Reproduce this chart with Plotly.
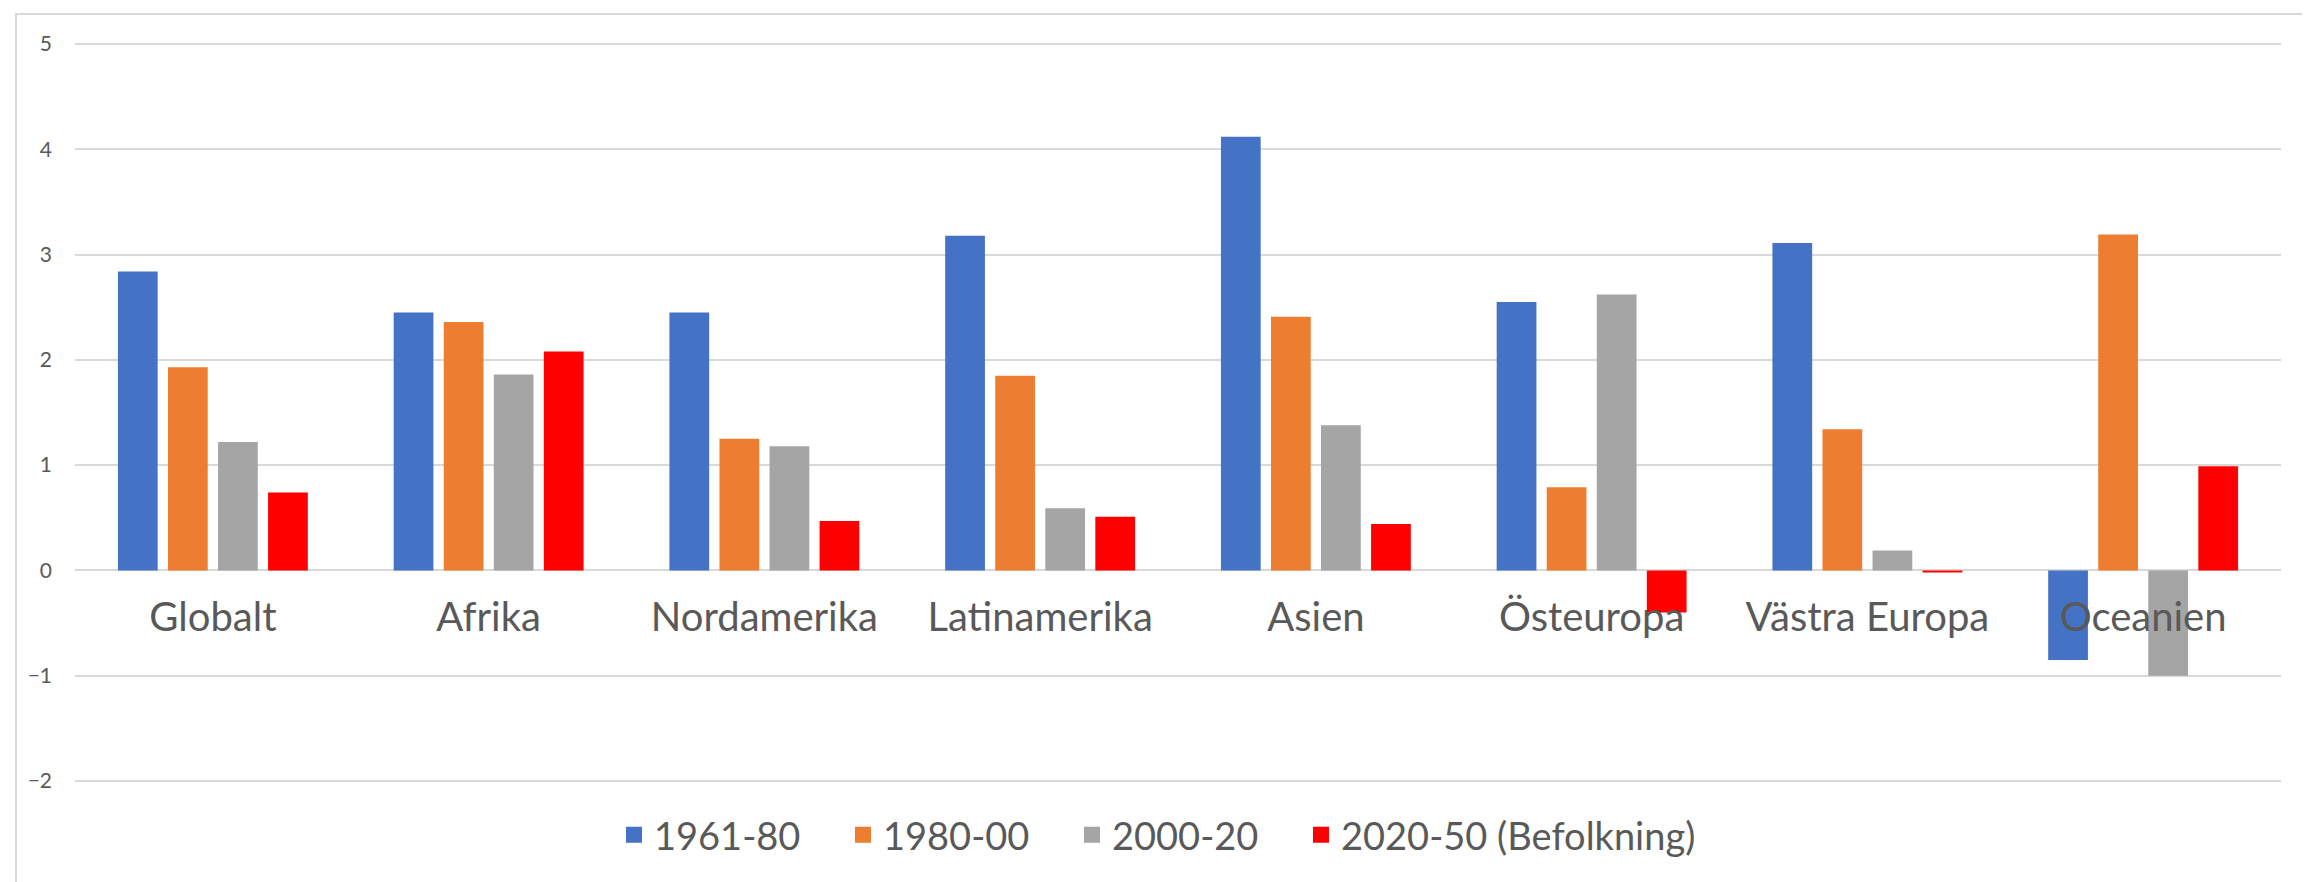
### Import Packages ###
import plotly.graph_objects as go

### Data ###
regions = ['Globalt', 'Afrika', 'Nordamerika', 'Latinamerika', 'Asien',
           'Östeuropa', 'Västra Europa', 'Oceanien']

series_names = ['1961-80', '1980-00', '2000-20', '2020-50 (Befolkning)']

values_1961_80 = [2.84, 2.45, 2.45, 3.18, 4.12, 2.55, 3.11, -0.85]
values_1980_00 = [1.93, 2.36, 1.25, 1.85, 2.41, 0.79, 1.34, 3.19]
values_2000_20 = [1.22, 1.86, 1.18, 0.59, 1.38, 2.62, 0.19, -1.00]
values_2020_50 = [0.74, 2.08, 0.47, 0.51, 0.44, -0.40, -0.02, 0.99]

y_ticks = [-2, -1, 0, 1, 2, 3, 4, 5]

colors = ['#4472C4', '#ED7D31', '#A5A5A5', '#FF0000']

### Figure ###
W, H = 2310, 882
m_left, m_right, m_top, m_bottom = 67, 37, 35, 108
plot_w = W - m_left - m_right
plot_h = H - m_top - m_bottom

y_min, y_max = -2, 5
# x axis crosses at zero, like in Excel
zero_pos = (0 - y_min) / (y_max - y_min)

# pixel -> paper helpers
def px_x(p):
    return (p - m_left) / plot_w

def px_y(p):
    return (H - m_bottom - p) / plot_h

fig = go.Figure()

all_values = [values_1961_80, values_1980_00, values_2000_20, values_2020_50]
for i, (name, vals, color) in enumerate(zip(series_names, all_values, colors)):
    fig.add_trace(go.Bar(x = regions, y = vals, name = name, legendgroup = name,
                         showlegend = False,
                         marker = dict(color = color, line = dict(width = 0))))
    # legend entry with a bigger square than the bar default
    # last series gets its own legend box so the first three can be spaced out
    fig.add_trace(go.Scatter(x = [None], y = [None], name = name, legendgroup = name,
                             mode = 'markers',
                             legend = 'legend2' if i == 3 else 'legend',
                             marker = dict(color = color, symbol = 'square', size = 16,
                                           line = dict(width = 0))))

# chart border
fig.add_shape(type = 'rect', xref = 'paper', yref = 'paper',
              x0 = px_x(8), x1 = px_x(2302), y0 = px_y(895), y1 = px_y(6),
              line = dict(color = '#D9D9D9', width = 2), fillcolor = 'rgba(0,0,0,0)',
              layer = 'below')

legend_font = dict(size = 38, color = '#595959')

fig.update_layout(
    width = W, height = H,
    margin = dict(l = m_left, r = m_right, t = m_top, b = m_bottom),
    paper_bgcolor = 'white', plot_bgcolor = 'white',
    barmode = 'group', bargap = 0.274, bargroupgap = 0.206,
    font = dict(family = 'Lato, Carlito, Calibri, sans-serif', color = '#595959'),
    showlegend = True,
    legend = dict(orientation = 'h', x = px_x(606), xanchor = 'left',
                  y = px_y(827), yanchor = 'middle', font = legend_font,
                  itemwidth = 30, entrywidth = 184, traceorder = 'normal'),
    legend2 = dict(orientation = 'h', x = px_x(1293), xanchor = 'left',
                   y = px_y(827), yanchor = 'middle', font = legend_font,
                   itemwidth = 30),
    xaxis = dict(anchor = 'free', position = zero_pos, showgrid = False,
                 showline = False, zeroline = False, ticks = '',
                 ticklabelstandoff = 19,
                 tickfont = dict(size = 40, color = '#595959')),
    yaxis = dict(range = [y_min - 0.01, y_max + 0.01], tickvals = y_ticks, showgrid = True,
                 gridcolor = '#D9D9D9', gridwidth = 2,
                 zeroline = True, zerolinecolor = '#D9D9D9', zerolinewidth = 2,
                 showline = False, ticks = '', ticklabelstandoff = 22,
                 tickfont = dict(size = 21, color = '#595959')),
)

fig.write_html("out.html")
